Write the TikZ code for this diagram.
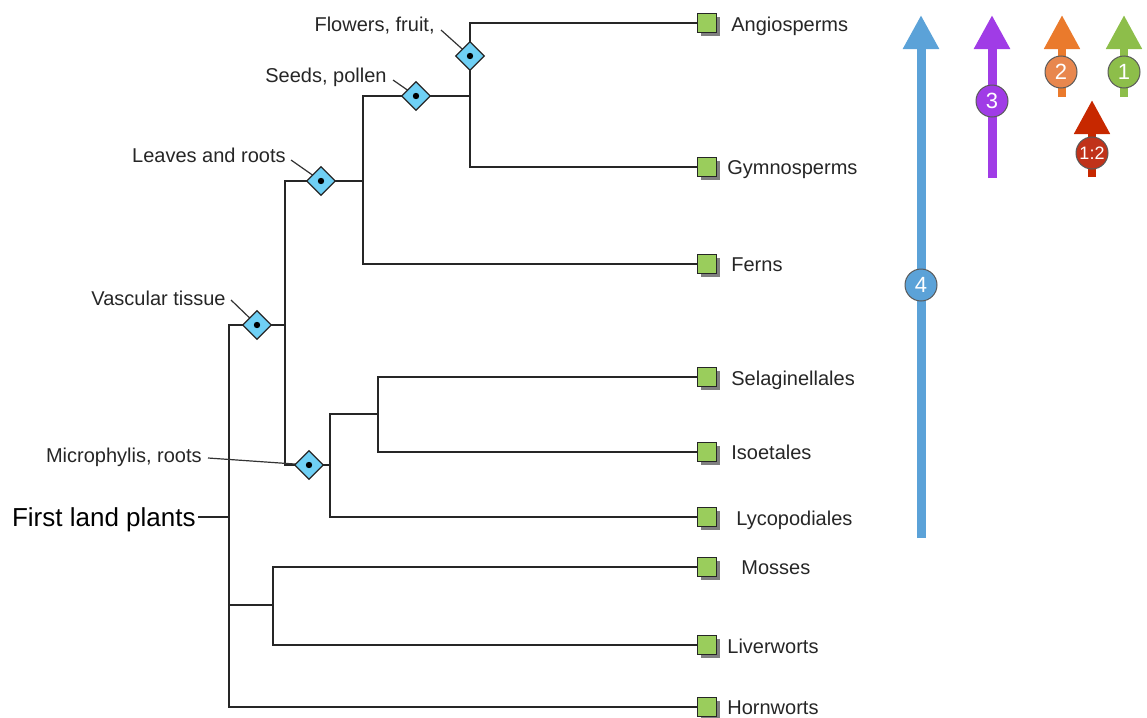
\documentclass[tikz,border=0pt]{standalone}
\usepackage{fontspec}
\setmainfont{Liberation Sans}
\usetikzlibrary{shapes.geometric,arrows.meta,shadows}
\definecolor{leafgreen}{RGB}{154,205,92}
\definecolor{diafill}{RGB}{111,208,245}
\definecolor{abblue}{RGB}{91,162,216}
\definecolor{abpurple}{RGB}{160,60,230}
\definecolor{aborange}{RGB}{234,122,44}
\definecolor{aborangec}{RGB}{232,135,78}
\definecolor{abgreen}{RGB}{141,190,74}
\definecolor{abred}{RGB}{199,40,0}
\definecolor{abredc}{RGB}{192,50,26}
\pgfdeclarelayer{bg}
\pgfsetlayers{bg,main}
\tikzset{
  branch/.style={line width=1.25pt, draw=black!85},
  pointer/.style={line width=0.6pt, draw=black!80},
  leafbox/.style={rectangle, draw=black!85, line width=0.6pt, fill=leafgreen, minimum size=9.5pt, inner sep=0pt,
    drop shadow={shadow xshift=1.5pt, shadow yshift=-1.5pt, fill=black, opacity=0.5}},
  leaflabel/.style={anchor=west, font=\fontsize{10}{12}\selectfont, text=black!85, inner sep=1pt, text height=7.2pt, text depth=0pt},
  annot/.style={anchor=east, font=\fontsize{10}{12}\selectfont, text=black!85, inner sep=1pt, text height=7.2pt, text depth=0pt},
  trait/.style={diamond, draw=black!85, line width=0.6pt, fill=diafill, minimum width=14.5pt, minimum height=14.5pt, inner sep=0pt},
  traitdot/.style={circle, fill=black, minimum size=3.2pt, inner sep=0pt},
  bigarrow/.style={line width=4.5pt, -{Triangle[width=17pt,length=17pt]}},
  smallarrow/.style={line width=4pt, -{Triangle[width=17pt,length=17pt]}},
  badge/.style={circle, draw=black!65, line width=0.5pt, minimum size=16pt, inner sep=0pt, text=white, font=\fontsize{11}{12}\selectfont}
}
\begin{document}
\begin{tikzpicture}[x=0.5pt,y=-0.5pt]
\useasboundingbox (0,0) rectangle (1147,718);
% internal branching points
\coordinate (root) at (229,517);
\coordinate (bry) at (273,605);
\coordinate (vas) at (285,325);
\coordinate (lyc) at (330,465);
\coordinate (sl) at (378,414);
\coordinate (eu) at (363,181);
\coordinate (seed) at (470,96);
% leaves
\node[leafbox] (angio) at (707,23) {};
\node[leafbox] (gymno) at (707,167) {};
\node[leafbox] (ferns) at (707,264) {};
\node[leafbox] (selag) at (707,377) {};
\node[leafbox] (iso) at (707,452) {};
\node[leafbox] (lycop) at (707,517) {};
\node[leafbox] (mosses) at (707,567) {};
\node[leafbox] (liver) at (707,645) {};
\node[leafbox] (horn) at (707,707) {};
\node[leaflabel] (tangio) at (729,24) {Angiosperms};
\node[leaflabel] (tgymno) at (725,167) {Gymnosperms};
\node[leaflabel] (tferns) at (729,264) {Ferns};
\node[leaflabel] (tselag) at (729,378) {Selaginellales};
\node[leaflabel] (tiso) at (729,452) {Isoetales};
\node[leaflabel] (tlycop) at (734,518) {Lycopodiales};
\node[leaflabel] (tmosses) at (739,567) {Mosses};
\node[leaflabel] (tliver) at (725,646) {Liverworts};
\node[leaflabel] (thorn) at (725,707) {Hornworts};
% root label
\node[anchor=east, font=\fontsize{13}{15}\selectfont, inner sep=1pt, text height=9.4pt, text depth=0pt] (flp) at (198,517) {First land plants};
% trait diamonds
\node[trait] (dvas) at (257,325) {};
\node[trait] (dleaf) at (321,181) {};
\node[trait] (dseed) at (416,96) {};
\node[trait] (dflow) at (470,56) {};
\node[trait] (dmicro) at (309,465) {};
\foreach \d in {dvas,dleaf,dseed,dflow,dmicro} \node[traitdot] at (\d) {};
% annotations
\node[annot] (aflow) at (437,24) {Flowers, fruit,};
\node[annot] (aseed) at (389,75) {Seeds, pollen};
\node[annot] (aleaf) at (288,155) {Leaves and roots};
\node[annot] (avas) at (228,298) {Vascular tissue};
\node[annot] (amicro) at (204,455) {Microphylis, roots};
\begin{pgfonlayer}{bg}
\draw[branch] (flp.east) -- (root);
\draw[branch] (root) |- (vas);
\draw[branch] (root) |- (bry);
\draw[branch] (root) |- (horn.west);
\draw[branch] (bry) |- (mosses.west);
\draw[branch] (bry) |- (liver.west);
\draw[branch] (vas) |- (eu);
\draw[branch] (vas) |- (lyc);
\draw[branch] (lyc) |- (sl);
\draw[branch] (lyc) |- (lycop.west);
\draw[branch] (sl) |- (selag.west);
\draw[branch] (sl) |- (iso.west);
\draw[branch] (eu) |- (seed);
\draw[branch] (eu) |- (ferns.west);
\draw[branch] (seed) |- (angio.west);
\draw[branch] (seed) |- (gymno.west);
\draw[pointer] ([shift={(2pt,-3pt)}]aflow.east) -- (dflow.center);
\draw[pointer] ([shift={(2pt,-2.5pt)}]aseed.east) -- (dseed.center);
\draw[pointer] ([shift={(1.5pt,-2.5pt)}]aleaf.east) -- (dleaf.center);
\draw[pointer] ([shift={(1.5pt,-1pt)}]avas.east) -- (dvas.center);
\draw[pointer] ([shift={(2pt,-1.5pt)}]amicro.east) -- (dmicro.center);
\end{pgfonlayer}
% arrows
\coordinate (b0) at (921,538); \coordinate (b1) at (921,15);
\coordinate (p0) at (992,178); \coordinate (p1) at (992,15);
\coordinate (o0) at (1062,97); \coordinate (o1) at (1062,15);
\coordinate (g0) at (1124,97); \coordinate (g1) at (1124,15);
\coordinate (r0) at (1092,177); \coordinate (r1) at (1092,100);
\draw[bigarrow, abblue] (b0) -- (b1);
\draw[bigarrow, abpurple] (p0) -- (p1);
\draw[smallarrow, aborange] (o0) -- (o1);
\draw[smallarrow, abgreen] (g0) -- (g1);
\draw[smallarrow, abred] (r0) -- (r1);
\node[badge, fill=abblue] (c4) at (921,285) {4};
\node[badge, fill=abpurple] (c3) at (992,101) {3};
\node[badge, fill=aborangec] (c2) at (1061,72) {2};
\node[badge, fill=abgreen] (c1) at (1124,72) {1};
\node[badge, fill=abredc, font=\fontsize{9}{10}\selectfont] (c12) at (1092,153) {1:2};
\end{tikzpicture}
\end{document}
